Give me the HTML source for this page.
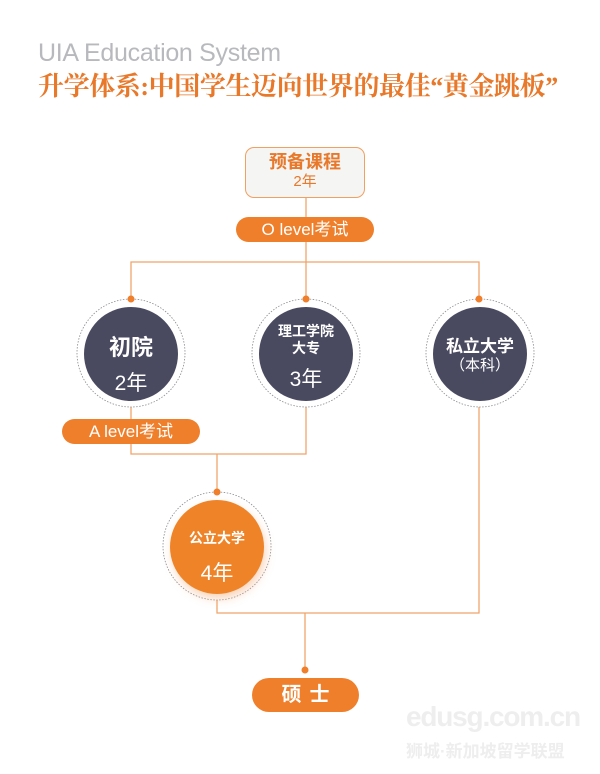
<!DOCTYPE html>
<html><head><meta charset="utf-8">
<style>
body{margin:0;background:#fff;}
#c{position:relative;width:600px;height:774px;overflow:hidden;background:#fff;font-family:"Liberation Sans","Noto Sans CJK SC",sans-serif;}
.a{position:absolute;}
.t1{left:38px;top:39px;font-size:25px;color:#b8b9bd;letter-spacing:-0.3px;white-space:nowrap;}
.t2{left:38px;top:66px;font-size:26px;color:#e8782a;font-weight:bold;font-family:"Liberation Serif","Noto Serif CJK SC",serif;white-space:nowrap;letter-spacing:-0.4px;}
.pill{background:#ef7f2b;color:#fff;border-radius:14px;text-align:center;white-space:nowrap;}
.ctext{color:#fff;text-align:center;width:100%;}
</style></head><body><div id="c">
<div class="a t1">UIA Education System</div>
<div class="a t2">升学体系:中国学生迈向世界的最佳“黄金跳板”</div>

<svg class="a" style="left:0;top:0" width="600" height="774">
<g stroke="#f0a46a" stroke-width="1.3" fill="none">
<line x1="306" y1="198" x2="306" y2="262"/>
<polyline points="131,299 131,262 479,262 479,299"/>
<line x1="306" y1="262" x2="306" y2="299"/>
<polyline points="131,407 131,454 306,454 306,407"/>
<line x1="217" y1="454" x2="217" y2="492"/>
<polyline points="217,600 217,613 479,613 479,407"/>
<line x1="305" y1="613" x2="305" y2="670"/>
</g>
<g fill="none" stroke="#8a8a90" stroke-width="0.8" stroke-dasharray="1.5 1.5">
<circle cx="131" cy="353" r="54"/>
<circle cx="306" cy="353" r="54"/>
<circle cx="480" cy="353" r="54"/>
<circle cx="217" cy="546" r="54"/>
</g>
<defs><filter id="sh" x="-40%" y="-40%" width="180%" height="180%"><feGaussianBlur stdDeviation="5"/></filter></defs>
<circle cx="219" cy="552" r="46" fill="#f5b080" opacity="0.6" filter="url(#sh)"/>
<circle cx="131" cy="354" r="47" fill="#494a60"/>
<circle cx="306" cy="354" r="47" fill="#494a60"/>
<circle cx="480" cy="354" r="47" fill="#494a60"/>
<circle cx="217" cy="547" r="47" fill="#ef8328"/>
<g fill="#ef7f2b">
<circle cx="131" cy="299" r="3.5"/><circle cx="306" cy="299" r="3.5"/><circle cx="479" cy="299" r="3.5"/>
<circle cx="217" cy="492" r="3.5"/><circle cx="305" cy="670" r="3.5"/>
</g>
</svg>

<div class="a" style="left:245px;top:147px;width:118px;height:49px;border:1.3px solid #f0a060;border-radius:9px;background:#f5f5f4;text-align:center;">
<div style="color:#e8782a;font-weight:bold;font-size:18px;line-height:22px;margin-top:3px;">预备课程</div>
<div style="color:#e8782a;font-size:15px;line-height:18px;">2年</div>
</div>
<div class="a pill" style="left:236px;top:217px;width:138px;height:25px;line-height:25px;font-size:17px;">O level考试</div>

<div class="a" style="left:84px;top:330px;width:94px;"><div class="ctext" style="font-size:22px;font-weight:bold;">初院</div><div class="ctext" style="font-size:21px;margin-top:5px;">2年</div></div>
<div class="a" style="left:259px;top:323px;width:94px;"><div class="ctext" style="font-size:14px;font-weight:bold;line-height:17px;">理工学院<br>大专</div><div class="ctext" style="font-size:21px;margin-top:6px;">3年</div></div>
<div class="a" style="left:433px;top:337px;width:94px;"><div class="ctext" style="font-size:17px;font-weight:bold;line-height:20px;">私立大学</div><div class="ctext" style="font-size:15px;line-height:18px;">（本科）</div></div>
<div class="a" style="left:170px;top:528px;width:94px;"><div class="ctext" style="font-size:14px;font-weight:bold;">公立大学</div><div class="ctext" style="font-size:21px;margin-top:9px;">4年</div></div>

<div class="a pill" style="left:62px;top:419px;width:138px;height:25px;line-height:25px;font-size:17px;">A level考试</div>
<div class="a pill" style="left:252px;top:678px;width:107px;height:34px;line-height:34px;font-size:20px;font-weight:bold;border-radius:17px;letter-spacing:8px;text-indent:8px;">硕士</div>

<div class="a" style="left:406px;top:701px;font-size:28px;font-weight:bold;color:#eeeeee;letter-spacing:-1.2px;">edusg.com.cn</div>
<div class="a" style="left:406px;top:737px;font-size:17px;font-weight:bold;color:#eeeeee;white-space:nowrap;">狮城·新加坡留学联盟</div>
</div></body></html>
